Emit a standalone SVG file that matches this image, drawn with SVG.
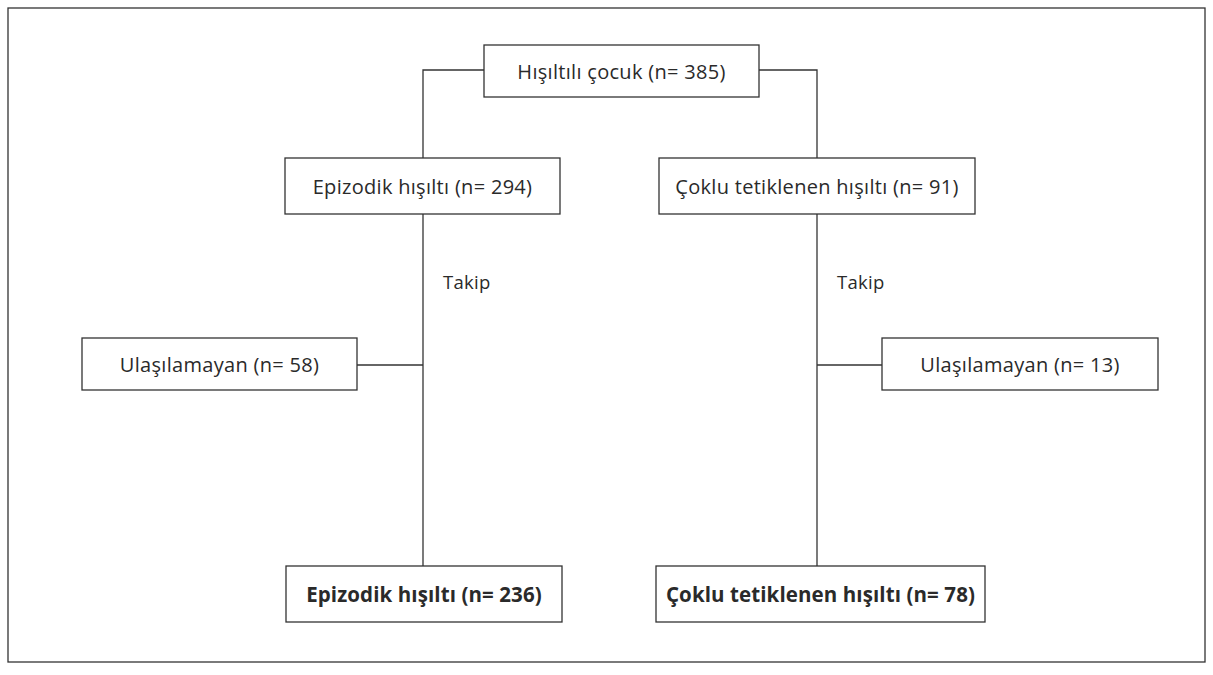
<svg xmlns="http://www.w3.org/2000/svg" width="1213" height="675" viewBox="0 0 1213 675">
<style>
.box{fill:#fff;stroke:#333;stroke-width:1.3}
.ln{fill:none;stroke:#333;stroke-width:1.3}
.t{font-family:"Open Sans","Noto Sans","Liberation Sans",sans-serif;font-size:20px;letter-spacing:0.3px;fill:#2a2a2a;text-anchor:middle;dominant-baseline:central}
.b{font-weight:bold;font-size:20.5px;letter-spacing:0.1px}
.l{text-anchor:start;font-size:18.5px}
</style>
<rect x="0" y="0" width="1213" height="675" fill="#fff"/>
<rect x="8" y="8" width="1197" height="654" class="ln"/>
<g id="connectors">
<polyline class="ln" points="484,70 423,70 423,158"/>
<polyline class="ln" points="759,70 817,70 817,158"/>
<line class="ln" x1="423" y1="214" x2="423" y2="566"/>
<line class="ln" x1="817" y1="214" x2="817" y2="566"/>
<line class="ln" x1="357" y1="365" x2="423" y2="365"/>
<line class="ln" x1="817" y1="365" x2="882" y2="365"/>
<text class="t l" x="443" y="281">Takip</text>
<text class="t l" x="837" y="281">Takip</text>
</g>
<g id="root"><rect class="box" x="484" y="45" width="275" height="52"/><text class="t" x="621.5" y="71">Hışıltılı çocuk (n= 385)</text></g>
<g id="epi1"><rect class="box" x="285" y="158" width="275" height="56"/><text class="t" x="422.5" y="186">Epizodik hışıltı (n= 294)</text></g>
<g id="cok1"><rect class="box" x="659" y="158" width="316" height="56"/><text class="t" x="817" y="186">Çoklu tetiklenen hışıltı (n= 91)</text></g>
<g id="ul1"><rect class="box" x="82" y="338" width="275" height="52"/><text class="t" x="219.5" y="364">Ulaşılamayan (n= 58)</text></g>
<g id="ul2"><rect class="box" x="882" y="338" width="276" height="52"/><text class="t" x="1020" y="364">Ulaşılamayan (n= 13)</text></g>
<g id="epi2"><rect class="box" x="286" y="566" width="276" height="56"/><text class="t b" x="424" y="594">Epizodik hışıltı (n= 236)</text></g>
<g id="cok2"><rect class="box" x="656" y="566" width="329" height="56"/><text class="t b" x="820.5" y="594">Çoklu tetiklenen hışıltı (n= 78)</text></g>
</svg>
